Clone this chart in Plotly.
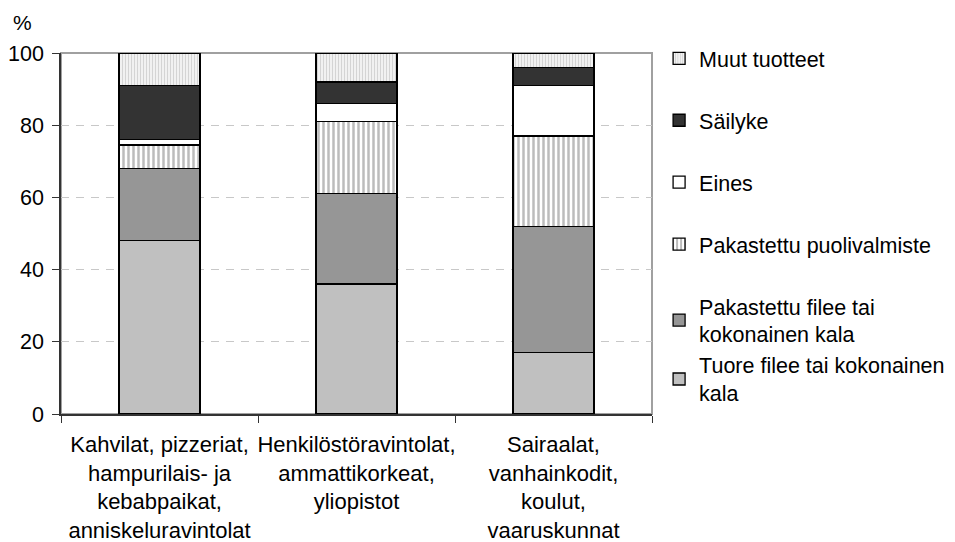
import plotly.graph_objects as go

categories = [
    "Kahvilat, pizzeriat,<br>hampurilais- ja<br>kebabpaikat,<br>anniskeluravintolat",
    "Henkilöstöravintolat,<br>ammattikorkeat,<br>yliopistot",
    "Sairaalat,<br>vanhainkodit,<br>koulut,<br>vaaruskunnat",
]

# shares in %, bottom segment first
tuore = [48, 36, 17]
pak_filee = [20, 25, 35]
pak_puoliv = [6.5, 20, 25]
eines = [1.5, 5, 14]
sailyke = [15, 6, 5]
muut = [9, 8, 4]

y_ticks = [0, 20, 40, 60, 80, 100]

FONT = "Liberation Sans, Arial, sans-serif"
EDGE = dict(color="#000000", width=1.3)

# (name, values, marker, legend group) - the two two-line entries share a
# group so they sit closer together, like the reference legend
series = [
    ("Tuore filee tai kokonainen<br>kala", tuore, dict(color="#c0c0c0"), "kala"),
    ("Pakastettu filee tai<br>kokonainen kala", pak_filee,
     dict(color="#969696"), "kala"),
    ("Pakastettu puolivalmiste", pak_puoliv,
     dict(color="#ffffff", pattern=dict(shape="|", fgcolor="#7a7a7a",
                                        bgcolor="#ffffff", size=5, solidity=0.5)),
     "puoliv"),
    ("Eines", eines, dict(color="#ffffff"), "eines"),
    ("Säilyke", sailyke, dict(color="#333333"), "sailyke"),
    ("Muut tuotteet", muut,
     dict(color="#ffffff", pattern=dict(shape="|", fgcolor="#b4b4b4",
                                        bgcolor="#f4f4f4", size=3, solidity=0.4)),
     "muut"),
]

fig = go.Figure()
n = len(series)
for i, (name, vals, marker, group) in enumerate(series):
    fig.add_trace(go.Bar(
        x=categories, y=vals, name=name,
        marker=dict(line=EDGE, **marker),
        legendgroup=group, legendrank=n - i,
    ))

# the page body adds an 8px offset, so the figure is 8px smaller each way
fig.update_layout(
    barmode="stack",
    bargap=0.59,
    width=947, height=534,
    margin=dict(l=53, r=303, t=45, b=128, autoexpand=False),
    paper_bgcolor="white",
    plot_bgcolor="white",
    font=dict(family=FONT, size=22, color="#000000"),
    legend=dict(
        x=1.012, xanchor="left", y=1.042, yanchor="top",
        traceorder="grouped", tracegroupgap=31,
        font=dict(family=FONT, size=21.5, color="#000000"),
        bgcolor="rgba(0,0,0,0)",
    ),
    shapes=[dict(
        type="rect", xref="paper", yref="paper", x0=0, x1=1, y0=0, y1=1,
        line=dict(color="#a0a0a0", width=2), layer="below",
    )],
    annotations=[dict(
        text="%", xref="paper", yref="paper", x=-0.065, y=1.085,
        xanchor="center", yanchor="middle", showarrow=False,
        font=dict(family=FONT, size=21, color="#000000"),
    )],
)
# let the tall legend use more than the default height share
try:
    fig.update_layout(legend_maxheight=520)
except ValueError:
    pass

fig.update_yaxes(
    range=[0, 100], tickvals=y_ticks,
    tickfont=dict(family=FONT, size=21.5, color="#000000"),
    showgrid=True, gridcolor="#c8c8c8", griddash="8px,7px", gridwidth=1,
    showline=True, linecolor="#333333", linewidth=1.5,
    ticks="outside", ticklen=7, tickcolor="#333333",
    ticklabelstandoff=4,
    zeroline=False, automargin=False,
)
fig.update_xaxes(
    tickangle=0, automargin=False,
    showline=True, linecolor="#333333", linewidth=1.5,
    ticks="outside", ticklen=7, tickcolor="#333333", tickson="boundaries",
    ticklabelstandoff=10,
    showgrid=False,
)

fig.write_html("out.html")
